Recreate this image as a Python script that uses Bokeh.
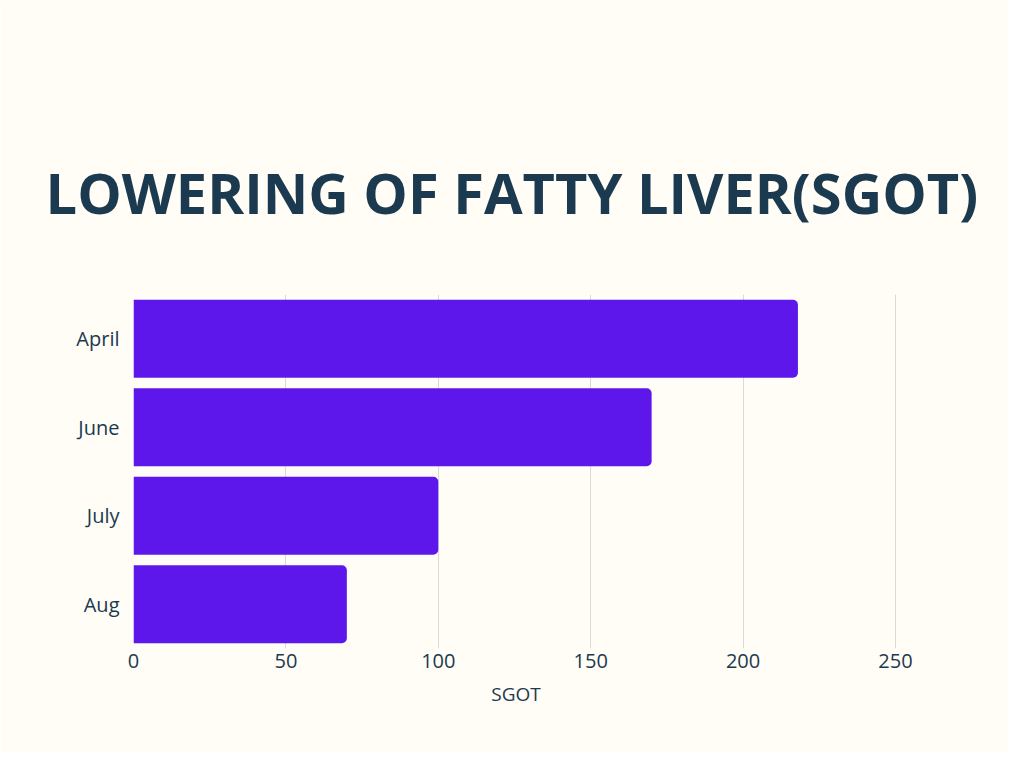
from bokeh.plotting import figure
from bokeh.models import Range1d, FactorRange
from bokeh.embed import file_html
from bokeh.resources import INLINE

months = ["April", "June", "July", "Aug"]
sgot = [218, 170, 100, 70]
x_ticks = [0, 50, 100, 150, 200, 250]

BG = "#FFFDF6"
INK = "#1B3A4F"
BAR = "#5E17EB"

p = figure(width=1008, height=752, output_backend="svg", toolbar_location=None,
           y_range=FactorRange(*reversed(months), range_padding=0),
           x_range=Range1d(0, 251),
           min_border_left=133, min_border_right=110, min_border_bottom=104, min_border_top=294)

p.background_fill_color = BG
p.border_fill_color = BG
p.outline_line_color = None

p.hbar(y=months, right=sgot, left=0, height=0.88, color=BAR, line_color=None,
       border_radius=(0, 5, 5, 0))

p.title.text = "LOWERING OF FATTY LIVER(SGOT)"
p.title.align = "left"
p.title.offset = -88
p.title.text_font = "Open Sans"
p.title.text_font_style = "bold"
p.title.text_font_size = "56px"
p.title.text_color = INK
p.title.standoff = 130

p.xaxis.ticker = x_ticks
p.xaxis.axis_label = "SGOT"
p.xaxis.axis_label_text_font = "Open Sans"
p.xaxis.axis_label_text_font_style = "normal"
p.xaxis.axis_label_text_font_size = "19px"
p.xaxis.axis_label_text_color = INK
p.xaxis.axis_label_standoff = 10
p.xaxis.major_label_text_font = "Open Sans"
p.xaxis.major_label_text_font_size = "20px"
p.xaxis.major_label_text_color = INK
p.xaxis.major_label_standoff = 5
p.xaxis.major_tick_out = 0
p.xaxis.major_tick_in = 0
p.xaxis.axis_line_color = None
p.xaxis.major_tick_line_color = None
p.xaxis.minor_tick_line_color = None

p.yaxis.major_label_text_font = "Open Sans"
p.yaxis.major_label_text_font_size = "20px"
p.yaxis.major_label_text_color = INK
p.yaxis.major_label_standoff = 14
p.yaxis.major_tick_out = 0
p.yaxis.major_tick_in = 0
p.yaxis.axis_line_color = None
p.yaxis.major_tick_line_color = None
p.yaxis.minor_tick_line_color = None

p.xgrid.grid_line_color = "#D9D9D9"
p.ygrid.grid_line_color = None

open("out.html", "w").write(file_html(p, INLINE))
